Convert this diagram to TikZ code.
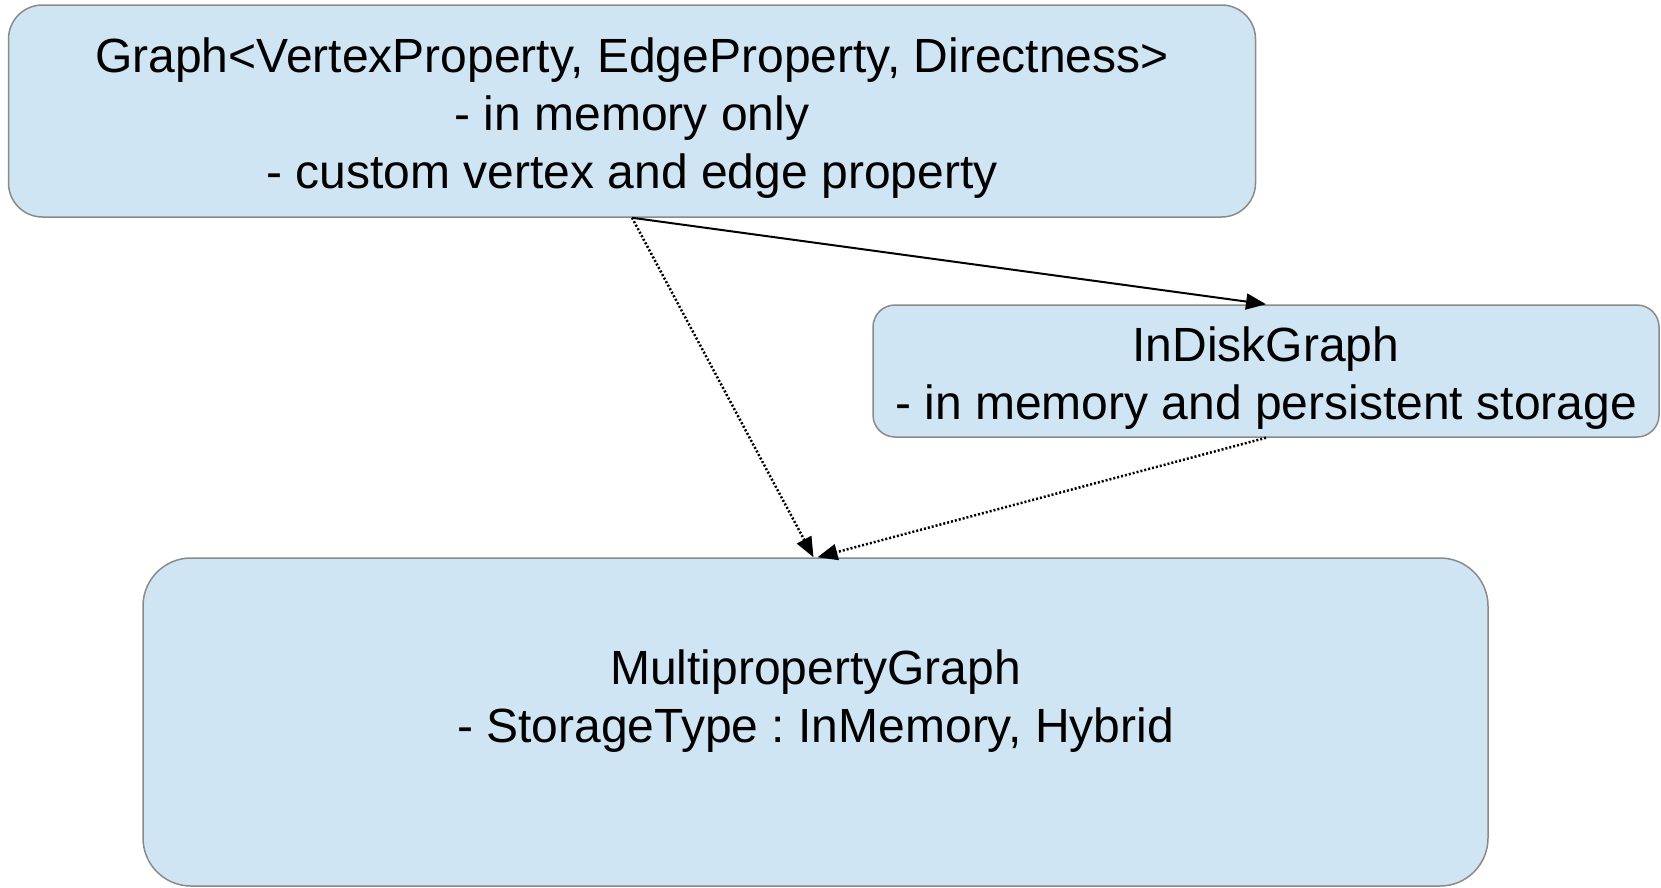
\documentclass[tikz,border=0pt]{standalone}
\usepackage{fontspec}
\setmainfont{Liberation Sans}
\usepackage{xcolor}
\usetikzlibrary{arrows.meta, positioning}

\definecolor{boxfill}{HTML}{D0E5F3}
\definecolor{boxline}{HTML}{8A8A8A}
\newcommand{\padtop}[1]{\rule{0pt}{#1}}

\begin{document}
\frenchspacing
\begin{tikzpicture}[
    x=1pt, y=-1pt,
    box/.style={draw=boxline, line width=1.5pt, fill=boxfill, align=center, inner sep=0pt,
        font=\fontsize{48}{58}\selectfont},
    arrow/.style={-{Triangle[length=20pt, width=16pt]}, line width=2pt},
    dotarrow/.style={arrow, dotted, line width=2.5pt}
]
    \useasboundingbox (0,0) rectangle (1661,887);

    % classes
    \node[box, rounded corners=34pt, minimum width=1247pt, minimum height=212pt] (graph) at (632,111)
        {\padtop{48pt}Graph<VertexProperty, EdgeProperty, Directness>\\- in memory only\\- custom vertex and edge property};
    \node[box, rounded corners=22pt, minimum width=786pt, minimum height=132pt] (indisk) at (1266,371)
        {\padtop{48pt}InDiskGraph\\- in memory and persistent storage};
    \node[box, rounded corners=48pt, minimum width=1345pt, minimum height=328pt] (multi) at (815.5,722)
        {\padtop{40pt}MultipropertyGraph\\- StorageType : InMemory, Hybrid\\\mbox{}};

    % relations
    \draw[arrow] (graph.south) -- (indisk.north);
    \draw[dotarrow] (graph.south) -- ([xshift=-2pt]multi.north);
    \draw[dotarrow] (indisk.south) -- ([xshift=2pt]multi.north);
\end{tikzpicture}
\end{document}
